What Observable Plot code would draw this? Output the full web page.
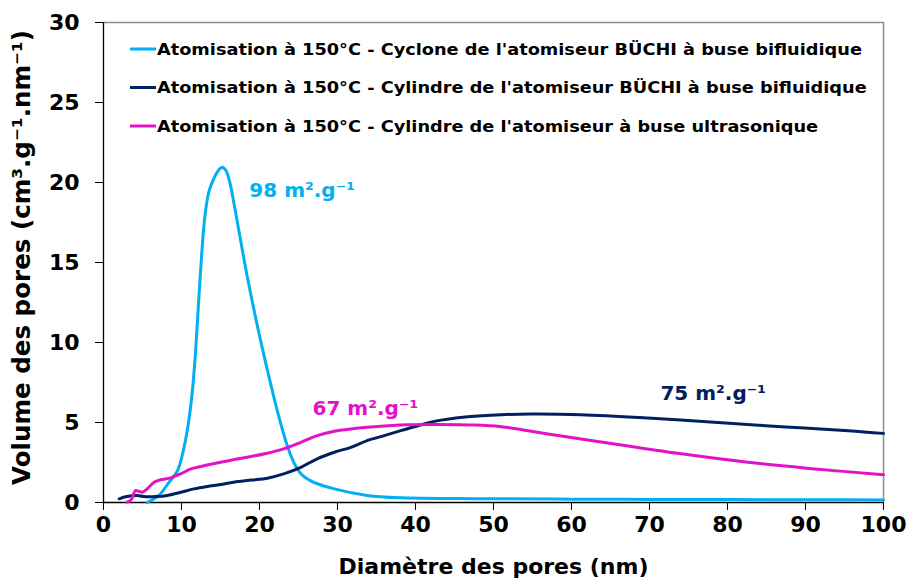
<!DOCTYPE html>
<html>
<head>
<meta charset="utf-8">
<script src="https://cdn.jsdelivr.net/npm/d3@7"></script>
<script src="https://cdn.jsdelivr.net/npm/@observablehq/plot@0.6"></script>
<style>
  html, body { margin: 0; padding: 0; background: white; }
  #chart { width: 909px; height: 585px; }
</style>
</head>
<body>
<div id="chart"></div>
<script>
// ---- Data ----
const seriesNames = [
  "Atomisation à 150°C - Cyclone de l'atomiseur BÜCHI à buse bifluidique",
  "Atomisation à 150°C - Cylindre de l'atomiseur BÜCHI à buse bifluidique",
  "Atomisation à 150°C - Cylindre de l'atomiseur à buse ultrasonique"
];
const seriesColors = ["#00b0f0", "#002060", "#e312c6"];

// Cyclone BÜCHI bifluidique (diameter nm, volume)
const cycloneX = [5.6, 7.1, 8.3, 9.5, 10.3, 10.9, 11.4, 11.8, 12.2, 12.6, 13.0, 13.5, 14.2, 14.8, 15.2, 15.7, 16.2, 16.8, 17.5, 18.4, 19.7, 21.0, 22.3, 23.6, 24.5, 25.3, 26.2, 27.0, 29.6, 33.8, 38.1, 45, 51, 60, 70, 80, 90, 100];
const cycloneY = [0.0, 0.44, 1.2, 2.0, 3.4, 5.0, 7.0, 9.4, 12.6, 15.6, 17.9, 19.4, 20.3, 20.8, 20.96, 20.75, 20.0, 18.5, 16.6, 14.2, 11.1, 8.3, 5.7, 3.5, 2.4, 1.8, 1.45, 1.25, 0.85, 0.44, 0.29, 0.25, 0.23, 0.21, 0.19, 0.18, 0.17, 0.16];

// Cylindre BÜCHI bifluidique
const cylBuchiX = [2.0, 3.0, 4.3, 5.2, 6.7, 8.2, 9.9, 11.6, 13.3, 15.0, 16.7, 19.0, 21.0, 23.1, 25.3, 27.4, 29.6, 31.7, 33.8, 36.0, 38.1, 40.3, 42.4, 46.7, 51.0, 54.8, 61.2, 69.8, 78.3, 86.9, 95.5, 100];
const cylBuchiY = [0.23, 0.37, 0.44, 0.37, 0.37, 0.44, 0.64, 0.85, 1.0, 1.12, 1.27, 1.40, 1.52, 1.79, 2.2, 2.73, 3.14, 3.45, 3.87, 4.18, 4.49, 4.80, 5.07, 5.36, 5.49, 5.53, 5.49, 5.28, 5.01, 4.74, 4.49, 4.32];

// Cylindre ultrasonique
const cylUltraX = [3.0, 3.55, 4.1, 4.5, 5.0, 5.6, 6.5, 7.3, 8.6, 9.9, 11.2, 12.5, 15.0, 16.7, 21.0, 23.1, 25.3, 27.4, 29.6, 33.8, 38.1, 42.4, 46.7, 51.0, 57.0, 65.5, 74.1, 82.6, 91.2, 100];
const cylUltraY = [0.02, 0.17, 0.75, 0.70, 0.64, 0.85, 1.27, 1.42, 1.54, 1.79, 2.1, 2.25, 2.51, 2.68, 3.08, 3.35, 3.76, 4.18, 4.45, 4.70, 4.85, 4.88, 4.85, 4.74, 4.28, 3.66, 3.04, 2.51, 2.1, 1.73];

// Surface-area annotations
const annotationTexts = ["98 m².g⁻¹", "67 m².g⁻¹", "75 m².g⁻¹"];
const annotationX = [18.7, 26.8, 71.4];
const annotationY = [19.5, 5.85, 6.8];
const annotationColors = ["#00b0f0", "#e312c6", "#002060"];

// Axis ticks and titles
const xTicks = [0, 10, 20, 30, 40, 50, 60, 70, 80, 90, 100];
const yTicks = [0, 5, 10, 15, 20, 25, 30];
const xTitle = "Diamètre des pores (nm)";
const yTitle = "Volume des pores (cm³.g⁻¹.nm⁻¹)";

// ---- Build table ----
const allXs = [cycloneX, cylBuchiX, cylUltraX];
const allYs = [cycloneY, cylBuchiY, cylUltraY];
const rows = [];
allXs.forEach((xs, s) => xs.forEach((x, i) => rows.push({series: seriesNames[s], x, y: allYs[s][i]})));
const annotations = annotationTexts.map((t, i) => ({text: t, x: annotationX[i], y: annotationY[i], color: annotationColors[i]}));

const FONT = "'DejaVu Sans', Verdana, sans-serif";

const chart = Plot.plot({
  width: 909,
  height: 585,
  marginLeft: 103,
  marginRight: 26,
  marginTop: 22,
  marginBottom: 83,
  style: {fontFamily: FONT, fontWeight: "bold", background: "white", color: "black", overflow: "visible"},
  x: {domain: [0, 100]},
  y: {domain: [0, 30]},
  color: {domain: seriesNames, range: seriesColors},
  marks: [
    Plot.ruleY([30], {stroke: "#8c8c8c", strokeWidth: 1.5}),
    Plot.ruleX([100], {stroke: "#8c8c8c", strokeWidth: 1.5}),
    Plot.axisX({ticks: xTicks, tickSize: 8, tickPadding: 6, fontSize: 22, fontWeight: "bold", label: null, stroke: "black"}),
    Plot.axisY({ticks: yTicks, tickSize: 8, tickPadding: 16, fontSize: 22, fontWeight: "bold", label: null, stroke: "black"}),
    Plot.ruleX([0], {stroke: "black", strokeWidth: 1.3}),
    Plot.ruleY([0], {stroke: "black", strokeWidth: 1.3}),
    Plot.line(rows, {x: "x", y: "y", z: "series", stroke: "series", strokeWidth: 3, curve: "catmull-rom"}),
    Plot.text(annotations, {x: "x", y: "y", text: "text", fill: "color", textAnchor: "start", fontSize: 20, fontWeight: "bold"}),
    Plot.text([xTitle], {text: d => d, frameAnchor: "bottom", textAnchor: "middle", lineAnchor: "middle", dy: 64, fontSize: 22, fontWeight: "bold"}),
    Plot.text([yTitle], {text: d => d, frameAnchor: "left", textAnchor: "middle", lineAnchor: "middle", rotate: -90, dx: -81, dy: -4, fontSize: 21, fontWeight: "bold"})
  ]
});

document.getElementById("chart").appendChild(chart);

// Fit the rotated y title so it spans the reference extent (y 30 → 485)
chart.querySelectorAll("text").forEach(t => {
  if (t.textContent === yTitle) {
    const len = t.getComputedTextLength();
    if (len > 0) t.style.fontSize = (21 * 455 / len).toFixed(2) + "px";
    const svgTop = chart.getBoundingClientRect().top;
    const r = t.getBoundingClientRect();
    const center = (r.top + r.bottom) / 2 - svgTop;
    const shift = center - 257.5; // positive: move up (rotated frame +x is up)
    const tr = t.getAttribute("transform") || "";
    t.setAttribute("transform", tr + ` translate(${shift.toFixed(1)},0)`);
  }
});

// ---- Legend inside the plot area (top-left) ----
const svg = d3.select(chart);
const leg = svg.append("g").attr("font-family", FONT).attr("font-weight", "bold").attr("font-size", 16).attr("text-anchor", "start");
seriesNames.forEach((name, i) => {
  const yy = 49 + i * 38.5;
  leg.append("line").attr("x1", 130).attr("x2", 156).attr("y1", yy).attr("y2", yy)
    .attr("stroke", seriesColors[i]).attr("stroke-width", 3);
  const t = leg.append("text").attr("x", 157).attr("y", yy).attr("dy", "0.35em").attr("fill", "black").attr("text-anchor", "start").text(name);
  const len = t.node().getComputedTextLength();
  if (len > 0) t.attr("textLength", (len * 1.108).toFixed(1)).attr("lengthAdjust", "spacingAndGlyphs");
});
</script>
</body>
</html>
